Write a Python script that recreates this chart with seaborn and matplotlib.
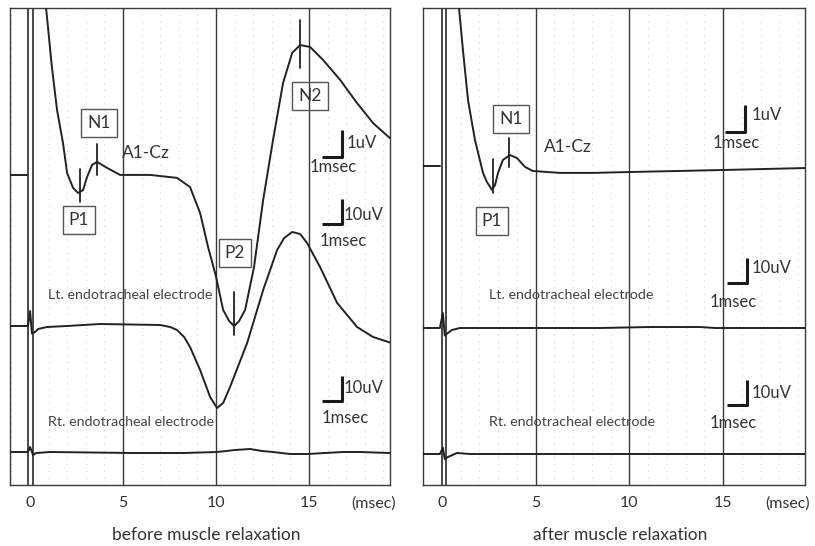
import numpy as np
import pandas as pd
import matplotlib
matplotlib.use("Agg")
import matplotlib.pyplot as plt
import seaborn as sns

# ---------------- data ----------------
# time in msec, amplitude in uV (upward deflection positive)
before_a1_t = [-1.08, -0.16, 0.78, 0.86, 1.17, 1.45, 1.77, 1.99, 2.31, 2.58, 2.85, 3.06, 3.33, 3.60,
               4.14, 4.84, 6.45, 7.90, 8.60, 9.14, 9.57, 10.00, 10.38, 10.70, 10.97, 11.24, 11.56,
               12.04, 12.53, 13.06, 13.60, 14.09, 14.52, 15.05, 15.75, 16.67, 17.58, 18.44, 19.35]
before_a1_uv = [0.04, 0.04, 7.00, 6.22, 4.05, 2.44, 1.22, 0.11, -0.44, -0.63, -0.52, -0.04, 0.41, 0.52,
                0.30, 0.04, 0.04, -0.07, -0.41, -1.37, -2.63, -3.74, -4.96, -5.37, -5.56, -5.37, -4.96,
                -3.37, -0.89, 1.33, 3.44, 4.56, 4.85, 4.78, 4.30, 3.56, 2.70, 1.96, 1.40]

before_lt_t = [-1.08, -0.11, 0.00, 0.10, 0.27, 0.43, 0.91, 1.99, 3.76, 6.99, 7.53, 7.90, 8.28, 8.60,
               9.14, 9.68, 10.05, 10.38, 10.75, 11.67, 12.53, 13.28, 13.66, 14.09, 14.52, 14.89,
               15.59, 16.51, 17.58, 18.44, 19.35]
before_lt_uv = [0.0, 0.0, 6.0, -3.0, -2.4, -1.2, -0.4, 0.0, 0.8, 0.4, -0.4, -1.6, -4.4, -8.4,
                -17.6, -28.4, -32.8, -30.8, -24.4, -6.8, 14.4, 30.4, 35.2, 37.6, 36.8, 33.2,
                23.6, 9.2, -0.4, -4.4, -6.6]

before_rt_t = [-1.08, -0.11, 0.00, 0.16, 0.32, 1.08, 5.54, 8.23, 10.05, 11.02, 11.83, 12.47, 13.06,
               13.98, 14.89, 15.86, 16.83, 17.74, 19.35]
before_rt_uv = [0.0, 0.0, 2.0, -1.2, -0.4, 0.0, -0.4, -0.4, 0.0, 0.8, 1.2, 0.4, 0.0,
                -0.8, -0.8, -0.4, 0.0, 0.0, -0.4]

after_a1_t = [-1.01, -0.11, 0.85, 0.91, 1.12, 1.39, 1.76, 2.19, 2.40, 2.67, 2.83, 2.99, 3.25, 3.63,
              4.00, 4.43, 4.85, 6.29, 8.05, 9.87, 12.53, 15.20, 19.36]
after_a1_uv = [0.19, 0.19, 6.50, 6.04, 4.48, 2.63, 1.15, -0.07, -0.41, -0.70, -0.52, -0.07, 0.41, 0.59,
               0.48, 0.15, 0.00, -0.07, -0.07, -0.04, 0.00, 0.04, 0.11]

after_lt_t = [-1.01, -0.11, 0.05, 0.15, 0.32, 0.53, 0.96, 4.69, 8.43, 11.09, 13.76, 14.56, 19.36]
after_lt_uv = [0.0, 0.0, 6.0, -3.0, -2.0, -0.8, 0.0, 0.0, 0.0, 0.4, 0.4, 0.0, 0.0]

after_rt_t = [-1.01, -0.11, 0.05, 0.15, 0.32, 0.80, 1.49, 8.00, 19.36]
after_rt_uv = [0.0, 0.0, 2.5, -2.0, -1.2, 0.4, 0.0, 0.0, 0.0]

# peak latencies (msec)
before_peaks = {"P1": 2.69, "N1": 3.60, "P2": 10.97, "N2": 14.52}
after_peaks = {"P1": 2.72, "N1": 3.57}

tick_values = [0, 5, 10, 15]
tick_labels = ["0", "5", "10", "15"]
panel_titles = ["before muscle relaxation", "after muscle relaxation"]
trace_names = ["A1-Cz", "Lt. endotracheal electrode", "Rt. endotracheal electrode"]

# ---------------- style ----------------
sns.set_theme(style="white")
plt.rcParams["font.family"] = ["Lato", "DejaVu Sans"]
INK = "#222222"
TXT = "#333333"

fig = plt.figure(figsize=(8.15, 5.46), dpi=100)
W, H = 815, 546


def make_ax(x0, x1, y0, y1):
    return fig.add_axes([x0 / W, 1 - y1 / H, (x1 - x0) / W, (y1 - y0) / H])


axL = make_ax(10, 390, 8, 485)
axR = make_ax(423, 805, 8, 485)

# layout: baseline (px above frame bottom) and gain (px per uV) per trace
layouts = {
    "before": dict(ax=axL, xlim=(-1.08, 19.35), stim=(-0.11, 0.16),
                   base=(309, 159, 33), gain=(27.0, 2.5, 2.5)),
    "after": dict(ax=axR, xlim=(-1.01, 19.36), stim=(0.0, 0.21),
                  base=(314, 157, 31), gain=(27.0, 2.5, 2.5)),
}

series = {
    "before": [(before_a1_t, before_a1_uv), (before_lt_t, before_lt_uv), (before_rt_t, before_rt_uv)],
    "after": [(after_a1_t, after_a1_uv), (after_lt_t, after_lt_uv), (after_rt_t, after_rt_uv)],
}

for key, lay in layouts.items():
    ax = lay["ax"]
    ax.set_xlim(*lay["xlim"])
    ax.set_ylim(0, 477)
    ax.set_facecolor("white")
    # faint dotted 1-msec grid
    for g in range(-1, 20):
        if g in (5, 10, 15, 0):
            continue
        ax.axvline(g, color="#d0d0d0", lw=0.7, ls=(0, (1, 6)), zorder=0)
    for g in (5, 10, 15):
        ax.axvline(g, color="#3a3a3a", lw=1.0, zorder=1)
    for s in lay["stim"]:
        ax.axvline(s, color="#2a2a2a", lw=1.2, zorder=1)
    # traces
    for i, (t, uv) in enumerate(series[key]):
        t = np.asarray(t)
        df = pd.DataFrame({"t": t, "y": np.asarray(uv) * lay["gain"][i] + lay["base"][i]})
        # A1-Cz: pre-stimulus baseline and post-stimulus response are separate sweeps
        df["seg"] = (t > 0).astype(int) if i == 0 else 0
        sns.lineplot(data=df, x="t", y="y", units="seg", ax=ax, color=INK, lw=1.4,
                     sort=False, estimator=None, legend=False, zorder=3)
    ax.set_xticks(tick_values)
    ax.set_xticklabels(tick_labels)
    ax.set_yticks([])
    ax.set_xlabel("")
    ax.set_ylabel("")
    ax.tick_params(axis="x", length=0, pad=8, labelsize=11.5, colors=TXT)
    for sp in ax.spines.values():
        sp.set_visible(True)
        sp.set_color("#3a3a3a")
        sp.set_linewidth(1.0)
    ax.annotate("(msec)", xy=(18.45, 0), xycoords=("data", "axes fraction"),
                xytext=(0, -8), textcoords="offset points", ha="center", va="top",
                fontsize=11.5, color=TXT, annotation_clip=False)


def box_label(ax, x, y, s):
    ax.text(x, y, s, ha="center", va="center", fontsize=12.5, color=TXT, zorder=4,
            bbox=dict(boxstyle="square,pad=0.35", fc="none", ec="#555555", lw=1.0))


def marker(ax, x, y0, y1):
    ax.plot([x, x], [y0, y1], color=INK, lw=1.3, zorder=4)


def scale_bar(ax, tx, y, height, vlabel, vx, vy, hx, hy):
    ax.plot([tx - 1.05, tx, tx], [y, y, y + height], color="#1a1a1a", lw=2.2,
            solid_capstyle="butt", zorder=4)
    ax.text(vx, vy, vlabel, ha="left", va="center", fontsize=12, color=TXT)
    ax.text(hx, hy, "1msec", ha="left", va="center", fontsize=12, color=TXT)


# ---- before panel annotations ----
ax = axL
ax.text(4.95, 332, trace_names[0], ha="left", va="center", fontsize=12.5, color=TXT)
box_label(ax, 3.71, 362, "N1")
box_label(ax, 2.63, 265, "P1")
box_label(ax, 11.02, 232, "P2")
box_label(ax, 15.05, 389, "N2")
marker(ax, before_peaks["P1"], 283, 316)
marker(ax, before_peaks["N1"], 310, 341)
marker(ax, before_peaks["P2"], 150, 193)
marker(ax, before_peaks["N2"], 417, 465)
ax.text(0.97, 190, trace_names[1], ha="left", va="center", fontsize=10.3, color="#444444")
ax.text(0.97, 63, trace_names[2], ha="left", va="center", fontsize=10.3, color="#444444")
scale_bar(ax, 16.77, 328, 27, "1uV", 16.99, 342, 15.05, 318)
scale_bar(ax, 16.77, 261, 25, "10uV", 16.88, 270, 15.59, 244)
scale_bar(ax, 16.77, 84, 25, "10uV", 16.88, 97, 15.65, 67)

# ---- after panel annotations ----
ax = axR
ax.text(5.44, 338, trace_names[0], ha="left", va="center", fontsize=12.5, color=TXT)
box_label(ax, 3.68, 366, "N1")
box_label(ax, 2.67, 264, "P1")
marker(ax, after_peaks["P1"], 292, 326)
marker(ax, after_peaks["N1"], 318, 347)
ax.text(2.51, 190, trace_names[1], ha="left", va="center", fontsize=10.3, color="#444444")
ax.text(2.51, 63, trace_names[2], ha="left", va="center", fontsize=10.3, color="#444444")
scale_bar(ax, 16.16, 353, 27, "1uV", 16.53, 370, 14.45, 342)
scale_bar(ax, 16.27, 202, 25, "10uV", 16.53, 217, 14.29, 183)
scale_bar(ax, 16.27, 80, 25, "10uV", 16.53, 92, 14.29, 62)

# panel titles
fig.text(206 / W, 1 - 535 / H, panel_titles[0], ha="center", va="center", fontsize=12.5, color=TXT)
fig.text(620 / W, 1 - 535 / H, panel_titles[1], ha="center", va="center", fontsize=12.5, color=TXT)

fig.savefig("out.png", dpi=100, facecolor="white")
